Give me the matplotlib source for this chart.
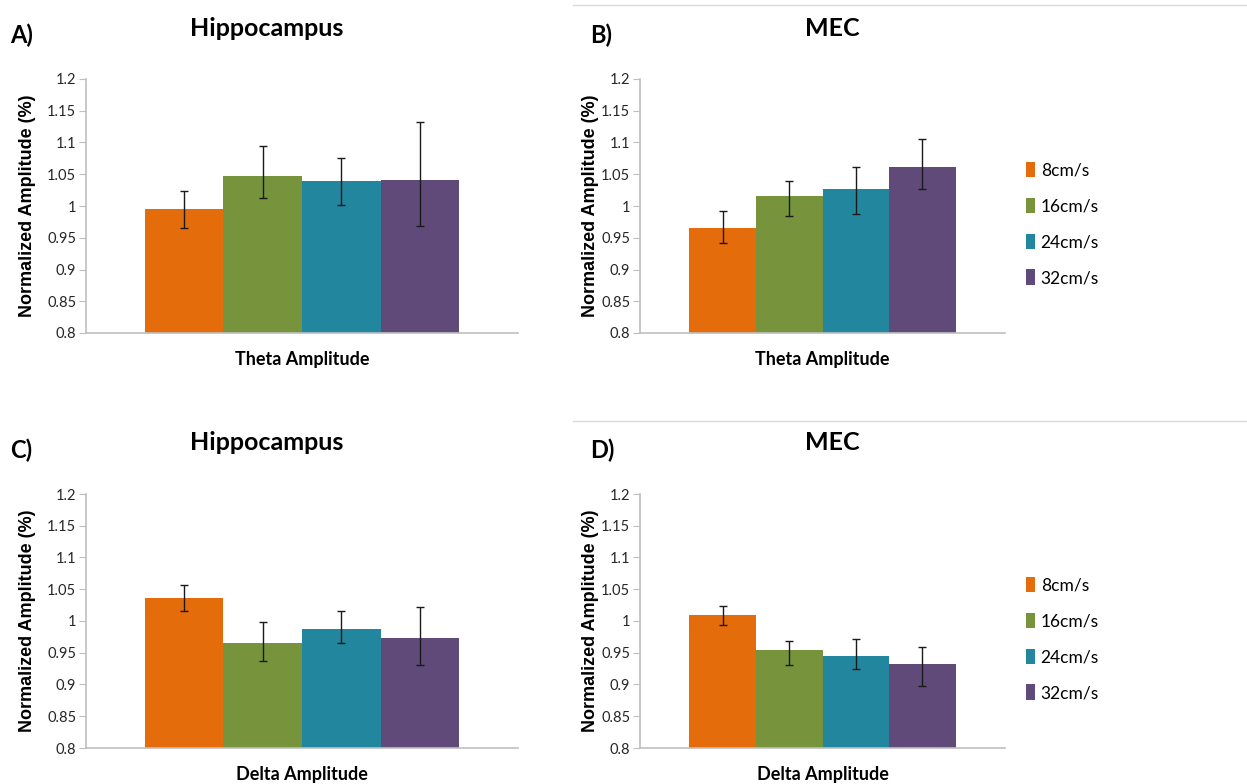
import matplotlib
matplotlib.use("Agg")
import matplotlib.pyplot as plt
import numpy as np
from matplotlib.lines import Line2D

# speeds (legend)
speeds = ["8cm/s", "16cm/s", "24cm/s", "32cm/s"]
colors = ["#E46C0A", "#77933C", "#23869F", "#5F4A7A"]

# bar values and error bar ends (top, bottom)
hipp_theta = [0.995, 1.048, 1.040, 1.041]
hipp_theta_hi = [1.024, 1.094, 1.076, 1.133]
hipp_theta_lo = [0.965, 1.012, 1.002, 0.968]

mec_theta = [0.966, 1.015, 1.027, 1.062]
mec_theta_hi = [0.992, 1.039, 1.061, 1.105]
mec_theta_lo = [0.941, 0.984, 0.987, 1.027]

hipp_delta = [1.036, 0.965, 0.987, 0.974]
hipp_delta_hi = [1.057, 0.998, 1.015, 1.022]
hipp_delta_lo = [1.016, 0.937, 0.966, 0.930]

mec_delta = [1.009, 0.955, 0.945, 0.932]
mec_delta_hi = [1.023, 0.969, 0.972, 0.959]
mec_delta_lo = [0.994, 0.930, 0.925, 0.897]

yticks = [0.8, 0.85, 0.9, 0.95, 1.0, 1.05, 1.1, 1.15, 1.2]
yticklabels = ["0.8", "0.85", "0.9", "0.95", "1", "1.05", "1.1", "1.15", "1.2"]

W, H = 1247, 784
fig = plt.figure(figsize=(W / 100, H / 100), dpi=100)

tick_font = "Lato"
label_font = "Liberation Sans"


def px_axes(left, top, right, bottom):
    return fig.add_axes([left / W, 1 - bottom / H, (right - left) / W, (bottom - top) / H])


def draw_panel(ax, vals, hi, lo, xlabel, ylab_x):
    w = 0.729 / 4
    for i, v in enumerate(vals):
        x = (i - 1.5) * w
        ax.bar(x, v - 0.8, bottom=0.8, width=w, color=colors[i], edgecolor="none",
               label=speeds[i], zorder=2)
        ax.errorbar(x, v, yerr=[[v - lo[i]], [hi[i] - v]], fmt="none",
                    ecolor="#1a1a1a", elinewidth=1, capsize=3, capthick=1, zorder=3)
    ax.set_xlim(-0.5, 0.5)
    ax.set_ylim(0.8, 1.2)
    ax.set_yticks(yticks)
    ax.set_yticklabels(yticklabels, fontfamily=tick_font, fontsize=10.5, color="#262626")
    ax.set_xticks([])
    for s in ["top", "right"]:
        ax.spines[s].set_visible(False)
    for s in ["left", "bottom"]:
        ax.spines[s].set_color("#BFBFBF")
        ax.spines[s].set_linewidth(1.2)
    ax.tick_params(axis="y", length=5, color="#BFBFBF", pad=2)
    ax.set_ylabel("Normalized Amplitude (%)", fontfamily=label_font, fontweight="bold",
                  fontsize=13)
    ax.yaxis.set_label_coords(ylab_x, 0.5)
    ax.set_xlabel(xlabel, fontfamily=tick_font, fontweight="bold", fontsize=13, labelpad=13)


axA = px_axes(86, 79, 518, 333)
axB = px_axes(640, 79, 1005, 333)
axC = px_axes(86, 494, 518, 748)
axD = px_axes(640, 494, 1005, 748)

draw_panel(axA, hipp_theta, hipp_theta_hi, hipp_theta_lo, "Theta Amplitude", -0.115)
draw_panel(axB, mec_theta, mec_theta_hi, mec_theta_lo, "Theta Amplitude", -0.112)
draw_panel(axC, hipp_delta, hipp_delta_hi, hipp_delta_lo, "Delta Amplitude", -0.115)
draw_panel(axD, mec_delta, mec_delta_hi, mec_delta_lo, "Delta Amplitude", -0.112)

for ax, ytop in [(axB, 155), (axD, 570)]:
    ax.legend(loc="upper left", bbox_to_anchor=(1019 / W, 1 - ytop / H),
              bbox_transform=fig.transFigure, frameon=False,
              prop={"family": tick_font, "size": 12.5},
              handlelength=0.55, handleheight=1.0, handletextpad=0.3,
              labelspacing=1.1, borderaxespad=0)

# titles and panel letters
title_kw = dict(fontfamily=tick_font, fontweight="bold", fontsize=18, ha="center", va="center")
fig.text(267 / W, 1 - 29 / H, "Hippocampus", **title_kw)
fig.text(832 / W, 1 - 29 / H, "MEC", **title_kw)
fig.text(267 / W, 1 - 443 / H, "Hippocampus", **title_kw)
fig.text(832 / W, 1 - 443 / H, "MEC", **title_kw)

letter_kw = dict(fontfamily=tick_font, fontweight="bold", fontsize=17, ha="left", va="center")
fig.text(10 / W, 1 - 35 / H, "A)", **letter_kw)
fig.text(590 / W, 1 - 35 / H, "B)", **letter_kw)
fig.text(10 / W, 1 - 450 / H, "C)", **letter_kw)
fig.text(590 / W, 1 - 450 / H, "D)", **letter_kw)

# thin grey separators on the right column
for y in [5, 421]:
    fig.add_artist(Line2D([573 / W, 1.0], [1 - y / H, 1 - y / H],
                          transform=fig.transFigure, color="#D9D9D9", lw=1))

fig.savefig("out.png", dpi=100)
